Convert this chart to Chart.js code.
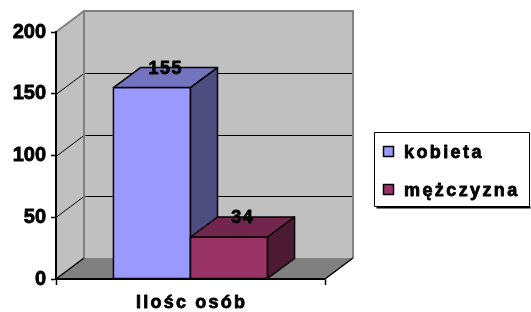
<!DOCTYPE html>
<html>
<head>
<meta charset="utf-8">
<script src="https://cdn.jsdelivr.net/npm/chart.js@4"></script>
<style>
  html, body { margin: 0; padding: 0; background: #fff; }
  #wrap { width: 531px; height: 312px; }
</style>
</head>
<body>
<div id="wrap"><canvas id="chart" width="531" height="312"></canvas></div>
<script>
// --- Data ---
const categories = ['Ilośc osób'];
const seriesNames = ['kobieta', 'mężczyzna'];
const kobieta = [155];
const mezczyzna = [34];
const yTicks = [0, 50, 100, 150, 200];

// --- Colours ---
const frontColors = ['#9999ff', '#993366'];
const topColors = ['#7373c0', '#73264d'];
const sideColors = ['#4d4d80', '#4d1a33'];
const FONT = "'Liberation Sans', Arial, sans-serif";

// wall / bar depth
const WALL_DX = 28, WALL_DY = -21;
const BAR_DX = 27, BAR_DY = -20;

// draw text one char at a time so the wide spacing of the original shows
function drawSpaced(ctx, text, x, y, spacing, align) {
    const chars = Array.from(text);
    const widths = chars.map(ch => ctx.measureText(ch).width);
    const total = widths.reduce((s, w) => s + w, 0) + spacing * (chars.length - 1);
    let cx = x;
    if (align === 'center') cx = x - total / 2;
    else if (align === 'right') cx = x - total;
    ctx.textAlign = 'left';
    ctx.strokeStyle = ctx.fillStyle;
    ctx.lineWidth = 0.8;
    ctx.lineJoin = 'round';
    chars.forEach((ch, i) => {
        ctx.fillText(ch, cx, y);
        ctx.strokeText(ch, cx, y);
        cx += widths[i] + spacing;
    });
}

const walls3d = {
    id: 'walls3d',
    beforeDraw(chart) {
        const ctx = chart.ctx;
        const a = chart.chartArea;
        const y = chart.scales.y;
        const L = a.left, R = a.right, T = a.top, B = a.bottom;
        ctx.save();
        // back wall
        ctx.fillStyle = '#c0c0c0';
        ctx.fillRect(L + WALL_DX, T + WALL_DY, R - L, B - T);
        // left wall
        ctx.beginPath();
        ctx.moveTo(L, T);
        ctx.lineTo(L + WALL_DX, T + WALL_DY);
        ctx.lineTo(L + WALL_DX, B + WALL_DY);
        ctx.lineTo(L, B);
        ctx.closePath();
        ctx.fill();
        // floor
        ctx.fillStyle = '#808080';
        ctx.beginPath();
        ctx.moveTo(L, B);
        ctx.lineTo(L + WALL_DX, B + WALL_DY);
        ctx.lineTo(R + WALL_DX, B + WALL_DY);
        ctx.lineTo(R, B);
        ctx.closePath();
        ctx.fill();
        // gridlines
        ctx.strokeStyle = '#000';
        ctx.lineWidth = 1;
        yTicks.forEach(v => {
            if (v === 0 || v === 200) return;
            const py = Math.round(y.getPixelForValue(v)) + 0.5;
            ctx.beginPath();
            ctx.moveTo(L, py);
            ctx.lineTo(L + WALL_DX, py + WALL_DY);
            ctx.lineTo(R + WALL_DX, py + WALL_DY);
            ctx.stroke();
        });
        // wall edges
        ctx.strokeStyle = '#808080';
        ctx.lineWidth = 2;
        ctx.beginPath();
        ctx.moveTo(L, T);
        ctx.lineTo(L + WALL_DX, T + WALL_DY);
        ctx.lineTo(R + WALL_DX, T + WALL_DY);
        ctx.lineTo(R + WALL_DX, B + WALL_DY);
        ctx.moveTo(L + WALL_DX, T + WALL_DY);
        ctx.lineTo(L + WALL_DX, B + WALL_DY);
        ctx.stroke();
        // floor edges
        ctx.strokeStyle = '#000';
        ctx.lineWidth = 1.5;
        ctx.beginPath();
        ctx.moveTo(L, B);
        ctx.lineTo(L + WALL_DX, B + WALL_DY);
        ctx.moveTo(R, B);
        ctx.lineTo(R + WALL_DX, B + WALL_DY);
        ctx.stroke();
        ctx.restore();
    },
    afterDatasetsDraw(chart) {
        const ctx = chart.ctx;
        ctx.save();
        ctx.strokeStyle = '#000';
        ctx.lineWidth = 1.5;
        ctx.lineJoin = 'round';
        chart.data.datasets.forEach((ds, i) => {
            chart.getDatasetMeta(i).data.forEach(bar => {
                const p = bar.getProps(['x', 'y', 'base', 'width'], true);
                const x0 = p.x - p.width / 2, x1 = p.x + p.width / 2;
                const top = p.y, base = p.base;
                // front
                ctx.fillStyle = frontColors[i];
                ctx.beginPath();
                ctx.rect(x0, top, x1 - x0, base - top);
                ctx.fill();
                ctx.stroke();
                // top
                ctx.fillStyle = topColors[i];
                ctx.beginPath();
                ctx.moveTo(x0, top);
                ctx.lineTo(x0 + BAR_DX, top + BAR_DY);
                ctx.lineTo(x1 + BAR_DX, top + BAR_DY);
                ctx.lineTo(x1, top);
                ctx.closePath();
                ctx.fill();
                ctx.stroke();
                // side
                ctx.fillStyle = sideColors[i];
                ctx.beginPath();
                ctx.moveTo(x1, top);
                ctx.lineTo(x1 + BAR_DX, top + BAR_DY);
                ctx.lineTo(x1 + BAR_DX, base + BAR_DY);
                ctx.lineTo(x1, base);
                ctx.closePath();
                ctx.fill();
                ctx.stroke();
            });
        });
        // value labels
        ctx.fillStyle = '#000';
        ctx.font = 'bold 18px ' + FONT;
        ctx.textBaseline = 'alphabetic';
        chart.data.datasets.forEach((ds, i) => {
            chart.getDatasetMeta(i).data.forEach((bar, j) => {
                const p = bar.getProps(['x', 'y'], true);
                drawSpaced(ctx, String(ds.data[j]), p.x + 13, p.y - 14, 1.5, 'center');
            });
        });
        ctx.restore();
    },
    afterDraw(chart) {
        const ctx = chart.ctx;
        ctx.save();
        // category label under the x axis
        const xs = chart.scales.x;
        ctx.fillStyle = '#000';
        ctx.font = 'bold 18px ' + FONT;
        ctx.textBaseline = 'alphabetic';
        categories.forEach((c, i) => {
            drawSpaced(ctx, c, xs.getPixelForTick(i), 308, 2.2, 'center');
        });
        // legend box
        const bx = 374.5, by = 132.5, bw = 155, bh = 74;
        ctx.fillStyle = '#fff';
        ctx.fillRect(bx, by, bw, bh);
        ctx.strokeStyle = '#000';
        ctx.lineWidth = 1;
        ctx.strokeRect(bx, by, bw, bh);
        ctx.lineWidth = 2;
        ctx.beginPath();
        ctx.moveTo(bx + 2, by + bh + 1);
        ctx.lineTo(bx + bw + 1, by + bh + 1);
        ctx.stroke();
        const rows = [158, 196];
        seriesNames.forEach((name, i) => {
            const base = rows[i];
            ctx.fillStyle = frontColors[i];
            ctx.fillRect(383.5, base - 11.5, 10, 10);
            ctx.strokeStyle = '#000';
            ctx.lineWidth = 1.5;
            ctx.strokeRect(383.5, base - 11.5, 10, 10);
            ctx.fillStyle = '#000';
            drawSpaced(ctx, name, 404, base, 2.4, 'left');
        });
        ctx.restore();
    }
};

const ctx = document.getElementById('chart').getContext('2d');
const chart = new Chart(ctx, {
    type: 'bar',
    data: {
        labels: categories,
        datasets: [
            { label: seriesNames[0], data: kobieta, backgroundColor: frontColors[0], borderColor: '#000', borderWidth: 1 },
            { label: seriesNames[1], data: mezczyzna, backgroundColor: frontColors[1], borderColor: '#000', borderWidth: 1 }
        ]
    },
    options: {
        responsive: false,
        animation: false,
        devicePixelRatio: 1,
        layout: { padding: { top: 32, right: 206, left: 0, bottom: 0 } },
        datasets: { bar: { categoryPercentage: 0.573, barPercentage: 1 } },
        plugins: {
            legend: { display: false },
            tooltip: { enabled: false }
        },
        scales: {
            x: {
                grid: { drawOnChartArea: false, color: '#000', tickLength: 6, tickWidth: 1.5 },
                border: { color: '#000', width: 2 },
                ticks: { display: false },
                afterFit(scale) { scale.height = 33; }
            },
            y: {
                min: 0,
                max: 200,
                afterBuildTicks(scale) { scale.ticks = yTicks.map(v => ({ value: v })); },
                grid: { drawOnChartArea: false, color: '#000', tickLength: 5, tickWidth: 1.5 },
                border: { color: '#000', width: 2 },
                ticks: {
                    color: '#000',
                    font: { family: FONT, size: 20, weight: 'bold' },
                    textStrokeColor: '#000',
                    textStrokeWidth: 0.8,
                    padding: 5
                },
                afterFit(scale) { scale.width = 56; }
            }
        }
    },
    plugins: [walls3d]
});
</script>
</body>
</html>
